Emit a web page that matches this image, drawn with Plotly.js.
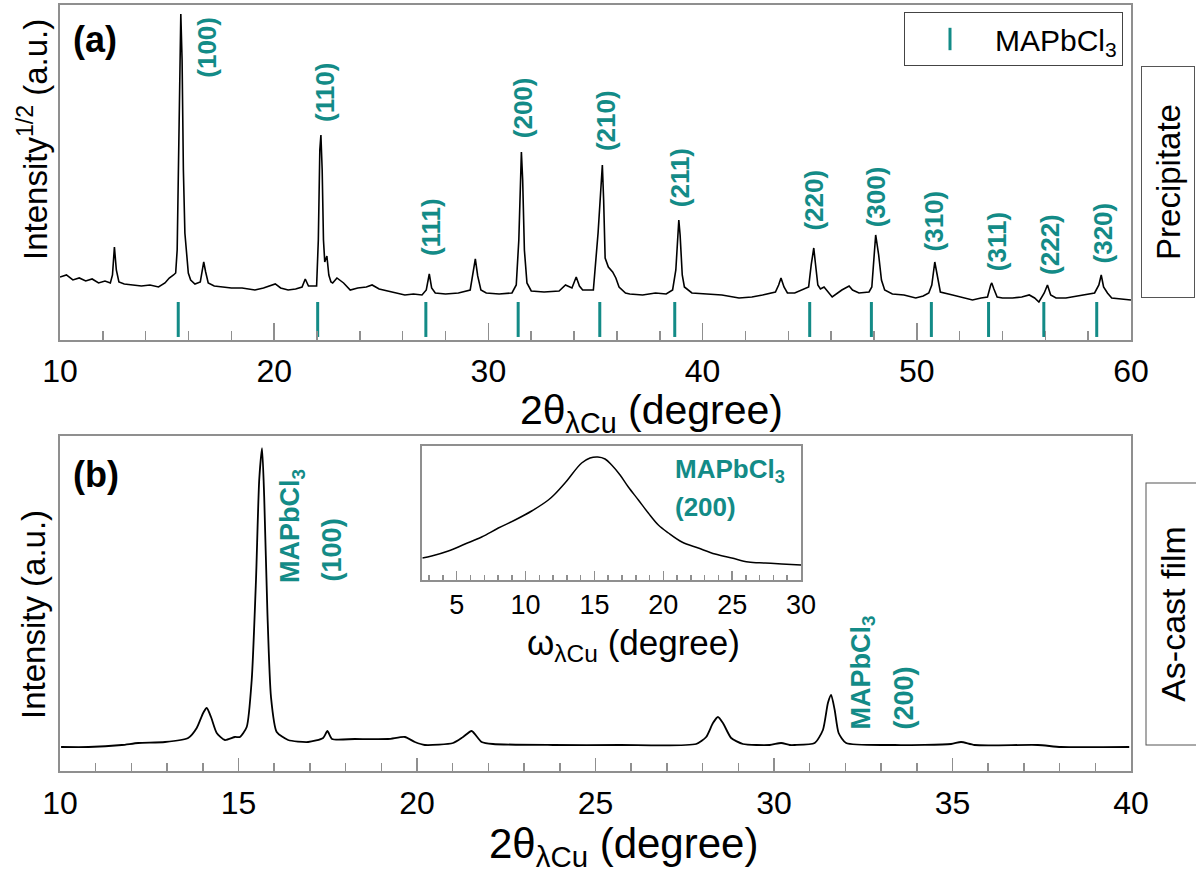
<!DOCTYPE html>
<html><head><meta charset="utf-8">
<script src="https://cdn.plot.ly/plotly-3.0.1.min.js"></script>
<style>html,body{margin:0;padding:0;background:#fff}#chart{width:1196px;height:874px}</style>
</head><body><div id="chart"></div>
<script>
// ---------- DATA ----------
// (a) Precipitate: 2theta (deg) vs sqrt-intensity (a.u.)
const precipitateTwoTheta = [10.0,10.3,10.6,10.9,11.2,11.5,11.8,12.1,12.35,12.45,12.54,12.63,12.75,13.0,13.4,13.8,14.2,14.6,14.9,15.1,15.3,15.4,15.47,15.53,15.59,15.64,15.7,15.76,15.83,15.99,16.1,16.3,16.55,16.65,16.71,16.8,16.92,17.2,17.6,18.0,18.5,19.1,19.5,19.8,20.05,20.3,20.65,21.0,21.3,21.45,21.6,21.8,21.98,22.06,22.13,22.18,22.24,22.3,22.36,22.46,22.55,22.65,22.73,22.93,23.1,23.24,23.55,23.9,24.3,24.57,24.9,25.5,26.1,26.5,26.9,27.1,27.24,27.35,27.52,28.0,28.6,29.15,29.28,29.39,29.5,29.65,29.9,30.5,31.1,31.3,31.42,31.5,31.54,31.6,31.68,31.8,32.0,32.6,33.3,33.6,33.9,34.1,34.25,34.4,34.7,34.9,35.12,35.25,35.32,35.38,35.45,35.6,35.8,35.95,36.1,36.4,36.6,37.2,37.8,38.3,38.6,38.75,38.85,38.89,38.95,39.05,39.15,39.5,40.2,40.9,41.7,42.3,42.8,43.4,43.55,43.66,43.8,43.96,44.3,44.66,44.95,45.07,45.15,45.19,45.26,45.38,45.5,45.67,46.05,46.3,46.5,46.84,47.0,47.3,47.77,47.9,48.0,48.08,48.15,48.22,48.35,48.5,48.86,49.4,49.95,50.3,50.56,50.7,50.84,50.95,51.1,51.67,52.1,52.6,53.0,53.3,53.45,53.5,53.6,53.75,54.0,54.47,54.9,55.25,55.5,55.7,55.95,56.1,56.25,56.5,56.96,57.5,57.9,58.3,58.5,58.61,58.72,58.9,59.1,59.5,60.0];
const precipitateIntensity = [63,65,60,62,59,61,57,59,57,65,93,70,58,56,55,54,55,53,57,62,65,67,90,190,290,326,280,170,107,67,60,56,58,70,78,68,57,54,53,52,52,50,52,54,56,52,50,51,53,61,54,54,54,100,190,205,170,100,78,84,65,58,57,62,59,57,50,52,53,55,51,48,45,46,45,50,66,52,47,46,47,50,65,81,64,50,47,46,47,55,100,175,188,160,90,57,49,48,49,55,52,63,54,50,50,50,107,160,175,140,82,73,68,62,53,47,46,45,47,46,50,70,115,120,105,65,53,47,46,45,42,43,45,48,55,62,53,47,47,50,53,75,90,92,78,55,51,53,43,47,50,54,50,47,48,53,80,105,95,85,60,50,46,45,42,44,47,55,78,65,48,45,43,40,42,43,55,57,51,43,42,42,43,45,42,38,47,55,45,42,42,44,45,47,55,65,53,47,42,41,40];

// MAPbCl3 reference reflections (deg) and their Miller indices
const refPeaks = [15.52,22.03,27.08,31.39,35.2,38.7,45.0,47.88,50.68,53.35,55.93,58.4];
const refHkl = ['(100)','(110)','(111)','(200)','(210)','(211)','(220)','(300)','(310)','(311)','(222)','(320)'];

// (b) As-cast film: 2theta (deg) vs intensity (a.u.)
const filmTwoTheta = [10.03,10.8,11.73,12.19,12.94,13.59,13.83,14.01,14.11,14.23,14.39,14.62,14.9,15.04,15.23,15.37,15.49,15.58,15.66,15.72,15.81,15.91,16.07,16.39,16.95,17.37,17.49,17.62,18.26,19.19,19.66,19.94,20.22,21.01,21.29,21.53,21.81,22.13,23.81,25.68,27.82,28.1,28.29,28.43,28.57,28.8,29.13,29.88,30.2,30.44,30.58,31.14,31.37,31.51,31.6,31.7,31.81,32.02,33.38,34.96,35.24,35.62,37.39,38.04,39.95];
const filmIntensity = [24,24,26,28,29,33,43,58,63,54,38,31,34,34,44,91,191,291,323,274,158,74,39,31,29,33,40,32,32,32,34,29,26,28,34,40,29,27,26,26,27,34,48,54,48,33,27,26,28,26,26,28,41,68,76,61,38,28,26,27,29,26,26,24,24];

// Inset: rocking curve of MAPbCl3 (200), omega (deg) vs intensity (a.u.)
const rockingOmega = [2.5,3.18,4.39,5.6,6.81,8.02,9.23,10.44,11.65,12.13,12.86,14.07,14.68,15.24,15.77,16.25,16.86,17.46,18.19,18.91,19.64,20.37,21.35,22.54,23.76,24.97,26.18,27.39,28.6,30.0];
const rockingIntensity = [22,24,29,36,43,52,60,69,80,86,97,117,122,123,121,115,105,93,80,67,55,47,38,32,26,22,18,17,16,15];

// ---------- STYLE / LAYOUT ----------
const TEAL = '#138b87';
const FRAME = '#8f8f8f';
const FONT = 'Arial, "Liberation Sans", sans-serif';

// label anchor positions for hkl annotations in panel (a) (layout, not data)
const hklLabelX = [16.85,22.39,27.35,31.65,35.46,38.98,45.18,48.08,50.78,53.72,56.24,58.67];
const hklLabelY = [293,247.5,112.5,232.5,219.3,162.5,140,143.3,119,98.3,95.5,107];

const traces = [
  {x: precipitateTwoTheta, y: precipitateIntensity, xaxis:'x', yaxis:'y', mode:'lines',
   line:{color:'#000', width:1.6}, showlegend:false},
  {x: refPeaks, y: refPeaks.map(()=>20.5), xaxis:'x', yaxis:'y', mode:'markers',
   name:'MAPbCl<sub>3</sub>',
   marker:{symbol:'line-ns-open', size:25, color:TEAL, line:{color:TEAL, width:3}}, showlegend:true},
  {x: filmTwoTheta, y: filmIntensity, xaxis:'x2', yaxis:'y2', mode:'lines',
   line:{color:'#000', width:1.8, shape:'spline', smoothing:0.6}, showlegend:false},
  {x: rockingOmega, y: rockingIntensity, xaxis:'x3', yaxis:'y3', mode:'lines',
   line:{color:'#000', width:1.5, shape:'spline'}, showlegend:false}
];

function xax(range, dtick, minor, len, mlen, fs, anchor, domain, standoff){
  return {range:range, domain:domain, anchor:anchor, dtick:dtick, tick0:0,
    ticks:'inside', ticklen:len, tickwidth:1.5, tickcolor:FRAME,
    minor:{dtick:minor, ticks:'inside', ticklen:mlen, tickwidth:1.5, tickcolor:FRAME},
    showline:true, linecolor:FRAME, linewidth:2, mirror:true, showgrid:false, zeroline:false,
    tickfont:{family:FONT, size:fs, color:'#000'}, ticklabelstandoff:standoff};
}
function yax(range, domain, anchor){
  return {range:range, domain:domain, anchor:anchor, showticklabels:false, ticks:'',
    showline:true, linecolor:FRAME, linewidth:2, mirror:true, showgrid:false, zeroline:false};
}

const ann = [];
refHkl.forEach((t,i)=>ann.push({xref:'x', yref:'y', x:hklLabelX[i], y:hklLabelY[i], text:'<b>'+t+'</b>',
  textangle:-90, xanchor:'center', yanchor:'middle', showarrow:false, font:{family:FONT, size:26, color:TEAL}}));

const P = (px)=> (px-60)/1071, Q = (py)=> (771-py)/766;
function pa(px, py, text, size, extra){
  return Object.assign({xref:'paper', yref:'paper', x:P(px), y:Q(py), text:text, showarrow:false,
    xanchor:'center', yanchor:'middle', font:{family:FONT, size:size, color:'#000'}}, extra||{});
}
ann.push(
  pa(95, 39, '<b>(a)</b>', 36),
  pa(96, 474, '<b>(b)</b>', 36),
  pa(33, 140, 'Intensity<sup>1/2</sup> (a.u.)', 33, {textangle:-90}),
  pa(33, 615, 'Intensity (a.u.)', 33, {textangle:-90}),
  pa(651, 413, '2θ<sub>λCu</sub> (degree)', 41),
  pa(623, 846, '2θ<sub>λCu</sub> (degree)', 42),
  pa(633, 645, 'ω<sub>λCu</sub> (degree)', 35),
  pa(1168, 182, 'Precipitate', 33, {textangle:-90, width:230, height:52, borderpad:0, bordercolor:'#555', borderwidth:1, bgcolor:'#fff'}),
  pa(1172, 614.5, 'As-cast film', 34, {textangle:-90, width:261, height:52, borderpad:0, bordercolor:'#555', borderwidth:1, bgcolor:'#fff'}),
  pa(673, 470, '<b>MAPbCl<sub>3</sub></b>', 26, {xanchor:'left', font:{family:FONT, size:26, color:TEAL}}),
  pa(673, 507, '<b>(200)</b>', 26, {xanchor:'left', font:{family:FONT, size:26, color:TEAL}}),
  {xref:'x2', yref:'y2', x:16.5, y:245, text:'<b>MAPbCl<sub>3</sub></b>', textangle:-90, xanchor:'center', yanchor:'middle', showarrow:false, font:{family:FONT, size:27, color:TEAL}},
  {xref:'x2', yref:'y2', x:17.63, y:221, text:'<b>(100)</b>', textangle:-90, xanchor:'center', yanchor:'middle', showarrow:false, font:{family:FONT, size:27, color:TEAL}},
  {xref:'x2', yref:'y2', x:32.48, y:98, text:'<b>MAPbCl<sub>3</sub></b>', textangle:-90, xanchor:'center', yanchor:'middle', showarrow:false, font:{family:FONT, size:27, color:TEAL}},
  {xref:'x2', yref:'y2', x:33.63, y:73, text:'<b>(200)</b>', textangle:-90, xanchor:'center', yanchor:'middle', showarrow:false, font:{family:FONT, size:27, color:TEAL}}
);

const layout = {
  width:1196, height:874,
  margin:{l:60, r:65, t:5, b:103},
  paper_bgcolor:'#fff', plot_bgcolor:'rgba(0,0,0,0)',
  font:{family:FONT, color:'#000'},
  xaxis: xax([10,60], 10, 2, 17, 9, 32, 'y', [0,1], 2),
  yaxis: yax([0,335], [0.5627,1], 'x'),
  xaxis2: xax([10,40], 5, 1, 13, 8, 32, 'y2', [0,1], 3),
  yaxis2: yax([0,335], [0,0.4373], 'x2'),
  xaxis3: xax([2.5,30], 5, 1, 9, 5, 27, 'y3', [0.3383,0.6919], 0),
  yaxis3: yax([0,134], [0.2493,0.4243], 'x3'),
  showlegend:true,
  legend:{x:P(1123), xanchor:'right', y:Q(12), yanchor:'top', bordercolor:'#444', borderwidth:1,
    bgcolor:'#fff', itemwidth:80, font:{family:FONT, size:30, color:'#000'}},
  annotations: ann
};

Plotly.newPlot('chart', traces, layout, {displayModeBar:false, staticPlot:true});
</script></body></html>
